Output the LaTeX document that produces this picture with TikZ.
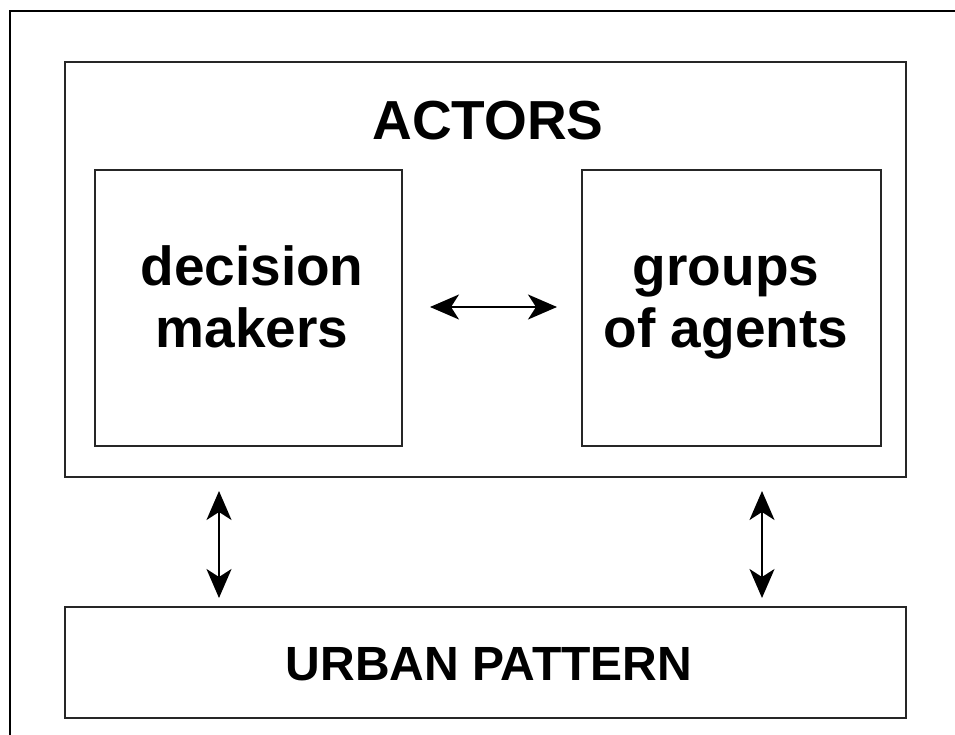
\documentclass[tikz,border=0pt]{standalone}
\usepackage{fontspec}
\setmainfont{Liberation Sans}
\usetikzlibrary{arrows.meta}
\begin{document}
\begin{tikzpicture}[x=1pt,y=-1pt,
  frame/.style={draw=black!85,line width=1.3pt},
  big/.style={font=\bfseries\fontsize{55}{62}\selectfont,align=center,inner sep=0pt},
  pattern/.style={font=\bfseries\fontsize{48}{56}\selectfont,inner sep=0pt},
  tip/.style={Stealth[length=29pt,width=25pt,inset=8pt]},
  link/.style={line width=2pt,{Stealth[length=29pt,width=25pt,inset=8pt]}-{Stealth[length=29pt,width=25pt,inset=8pt]}}]
\useasboundingbox (0,0) rectangle (955,735);
% outer frame, running off the page on the right and bottom
\draw[line width=2.6pt] (10,760) -- (10,11) -- (975,11);
% containers
\draw[frame] (65,62) rectangle (906,477);
\draw[frame] (95,170) rectangle (402,446);
\draw[frame] (582,170) rectangle (881,446);
\draw[frame] (65,607) rectangle (906,718);
% labels
\node[big,anchor=base] (actors) at (488,140) {ACTORS};
\node[big,anchor=base] (dm) at (252,347) {decision\\makers};
\node[big,anchor=base] (ga) at (726,347) {groups\\of agents};
\node[pattern,anchor=base] (urban) at (489,680) {URBAN PATTERN};
% interaction arrows
\coordinate (hl) at (430,307);
\coordinate (hr) at (557,307);
\coordinate (lt) at (219,491);
\coordinate (lb) at (219,598);
\coordinate (rt) at (762,491);
\coordinate (rb) at (762,598);
\draw[link] (hl) -- (hr);
\draw[link] (lt) -- (lb);
\draw[link] (rt) -- (rb);
\end{tikzpicture}
\end{document}
